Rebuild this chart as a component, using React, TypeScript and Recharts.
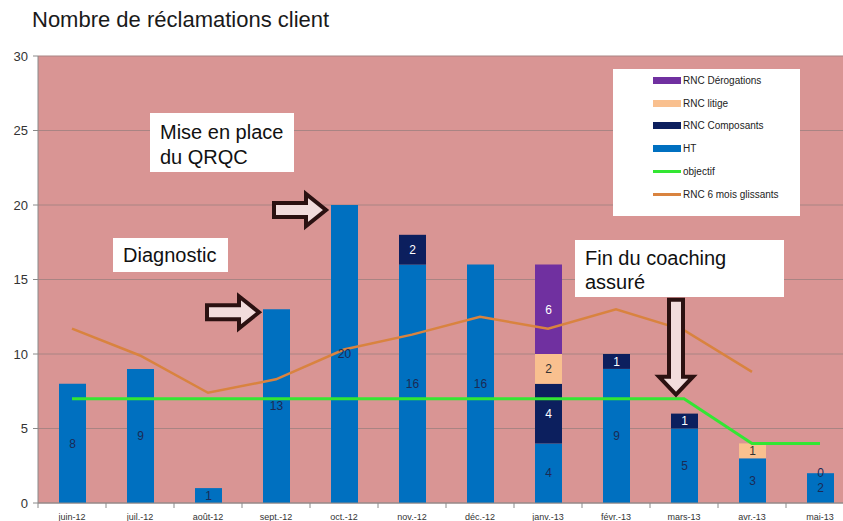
import React from "react"
import { ComposedChart, Bar, Line, XAxis, YAxis, CartesianGrid, LabelList, ReferenceDot } from "recharts"

// Réclamations client par mois
const months = ["juin-12", "juil.-12", "août-12", "sept.-12", "oct.-12", "nov.-12", "déc.-12", "janv.-13", "févr.-13", "mars-13", "avr.-13", "mai-13"]
const ht = [8, 9, 1, 13, 20, 16, 16, 4, 9, 5, 3, 2]
const composants = [null, null, null, null, null, 2, null, 4, 1, 1, null, 0]
const litige = [null, null, null, null, null, null, null, 2, null, null, 1, null]
const derogations = [null, null, null, null, null, null, null, 6, null, null, null, null]
const objectif = [7, 7, 7, 7, 7, 7, 7, 7, 7, 7, 4, 4]
const rnc6Mois = [11.7, 9.9, 7.4, 8.3, 10.3, 11.3, 12.5, 11.7, 13.0, 11.6, 8.8, null]
const yTicks = [0, 5, 10, 15, 20, 25, 30]

const data = months.map((month, i) => ({
  month,
  ht: ht[i],
  composants: composants[i],
  litige: litige[i],
  derogations: derogations[i],
  objectif: objectif[i],
  rnc6: rnc6Mois[i],
}))

const C_HT = "#0070c0"
const C_COMP = "#0c1f5e"
const C_LITIGE = "#f9c08f"
const C_DEROG = "#7030a0"
const C_OBJ = "#33e633"
const C_RNC6 = "#d9833f"

const BAND = 68
const FONT = "'Liberation Sans', Arial, sans-serif"

const legendItems = [
  { label: "RNC Dérogations", color: C_DEROG, kind: "bar" },
  { label: "RNC litige", color: C_LITIGE, kind: "bar" },
  { label: "RNC Composants", color: C_COMP, kind: "bar" },
  { label: "HT", color: C_HT, kind: "bar" },
  { label: "objectif", color: C_OBJ, kind: "line" },
  { label: "RNC 6 mois glissants", color: C_RNC6, kind: "line" },
]

const XTick = (props: any) => {
  const { x, y, payload, index } = props
  const half = BAND / 2
  return (
    <g>
      <line x1={x - half} x2={x - half} y1={y} y2={y + 5} stroke="#8a8a8a" />
      {index === months.length - 1 && <line x1={x + half} x2={x + half} y1={y} y2={y + 5} stroke="#8a8a8a" />}
      <text x={x} y={y + 17} textAnchor="middle" fontSize={9} fill="#333">
        {payload.value}
      </text>
    </g>
  )
}

// étiquette "0" des composants : le segment de hauteur nulle n'est pas dessiné
const ZeroCompLabel = (props: any) => {
  const { x, y, width, index } = props
  if (composants[index] !== 0) return null
  return (
    <text x={x + width / 2} y={y} dy={4} textAnchor="middle" fontSize={12} fill="#1b2a55">
      0
    </text>
  )
}

// flèche horizontale, pointe en (tx, ty)
const rightArrow = (dx: number, dy: number) => (p: any) => {
  const tx = p.cx + dx
  const ty = p.cy + dy
  const pts = [
    [tx - 52, ty - 7], [tx - 20, ty - 7], [tx - 20, ty - 16], [tx, ty],
    [tx - 20, ty + 16], [tx - 20, ty + 7], [tx - 52, ty + 7],
  ].map((q) => q.join(",")).join(" ")
  return <polygon points={pts} fill="#f2dcdc" stroke="#2b1111" strokeWidth={4} />
}

const downArrow = (dx: number, dy: number) => (p: any) => {
  const tx = p.cx + dx
  const ty = p.cy + dy
  const pts = [
    [tx - 7, ty - 95], [tx + 7, ty - 95], [tx + 7, ty - 18], [tx + 17, ty - 18], [tx, ty],
    [tx - 17, ty - 18], [tx - 7, ty - 18],
  ].map((q) => q.join(",")).join(" ")
  return <polygon points={pts} fill="#f2dcdc" stroke="#2b1111" strokeWidth={4} />
}

const boxStyle: React.CSSProperties = {
  position: "absolute",
  background: "#fff",
  fontSize: 20,
  lineHeight: "25px",
  color: "#111",
  boxSizing: "border-box",
  paddingLeft: 10,
}

export default function App() {
  return (
    <div style={{ position: "absolute", left: 0, top: 0, width: 843, height: 521, overflow: "hidden", background: "#fff", fontFamily: FONT }}>
      <div style={{ position: "absolute", left: 32, top: 7, fontSize: 22, lineHeight: "25px", color: "#1a1a1a" }}>
        Nombre de réclamations client
      </div>
      <ComposedChart width={860} height={521} data={data} margin={{ top: 56, right: 6, bottom: 0, left: 0 }}>
        <CartesianGrid vertical={false} fill="#d99594" stroke="#a98483" fillOpacity={1} />
        <XAxis dataKey="month" height={18} tickLine={false} tickSize={0} tickMargin={0} axisLine={{ stroke: "#8a8a8a" }} tick={<XTick />} interval={0} />
        <YAxis width={38} domain={[0, 30]} ticks={yTicks} tickSize={5} tickMargin={5} tick={{ fontSize: 13, fill: "#333" }} tickLine={{ stroke: "#8a8a8a" }} axisLine={{ stroke: "#8a8a8a" }} />
        <Bar dataKey="ht" stackId="a" fill={C_HT} barSize={27} isAnimationActive={false}>
          <LabelList dataKey="ht" position="center" fill="#1b2a55" fontSize={12} />
          <LabelList dataKey="ht" content={<ZeroCompLabel />} />
        </Bar>
        <Bar dataKey="composants" stackId="a" fill={C_COMP} barSize={27} isAnimationActive={false}>
          <LabelList dataKey="composants" position="center" fill="#fff" fontSize={12} />
        </Bar>
        <Bar dataKey="litige" stackId="a" fill={C_LITIGE} barSize={27} isAnimationActive={false}>
          <LabelList dataKey="litige" position="center" fill="#333" fontSize={12} />
        </Bar>
        <Bar dataKey="derogations" stackId="a" fill={C_DEROG} barSize={27} isAnimationActive={false}>
          <LabelList dataKey="derogations" position="center" fill="#fff" fontSize={12} />
        </Bar>
        <Line dataKey="objectif" type="linear" stroke={C_OBJ} strokeWidth={3} dot={false} activeDot={false} isAnimationActive={false} />
        <Line dataKey="rnc6" type="linear" stroke={C_RNC6} strokeWidth={2.5} dot={false} activeDot={false} isAnimationActive={false} />
        <ReferenceDot x="sept.-12" y={13} ifOverflow="visible" shape={rightArrow(-17, 3)} />
        <ReferenceDot x="oct.-12" y={20} ifOverflow="visible" shape={rightArrow(-18, 5)} />
        <ReferenceDot x="mars-13" y={7} ifOverflow="visible" shape={downArrow(-8, -4)} />
      </ComposedChart>

      <div style={{ ...boxStyle, left: 150, top: 113, width: 144, height: 59, paddingTop: 7 }}>
        Mise en place
        <br />
        du QRQC
      </div>
      <div style={{ ...boxStyle, left: 113, top: 238, width: 115, height: 34, paddingTop: 5 }}>Diagnostic</div>
      <div style={{ ...boxStyle, left: 575, top: 240, width: 209, height: 57, paddingTop: 6, lineHeight: "24px" }}>
        Fin du coaching
        <br />
        assuré
      </div>

      <div style={{ position: "absolute", left: 613, top: 69, width: 187, height: 147, background: "#fff" }}>
        {legendItems.map((it, i) => (
          <div key={it.label} style={{ position: "absolute", left: 40, top: 4 + i * 22.7, height: 15, display: "flex", alignItems: "center" }}>
            <div style={{ width: 28, height: it.kind === "bar" ? 7 : 3, background: it.color }} />
            <span style={{ fontSize: 10, color: "#222", marginLeft: 2, whiteSpace: "nowrap" }}>{it.label}</span>
          </div>
        ))}
      </div>
    </div>
  )
}
